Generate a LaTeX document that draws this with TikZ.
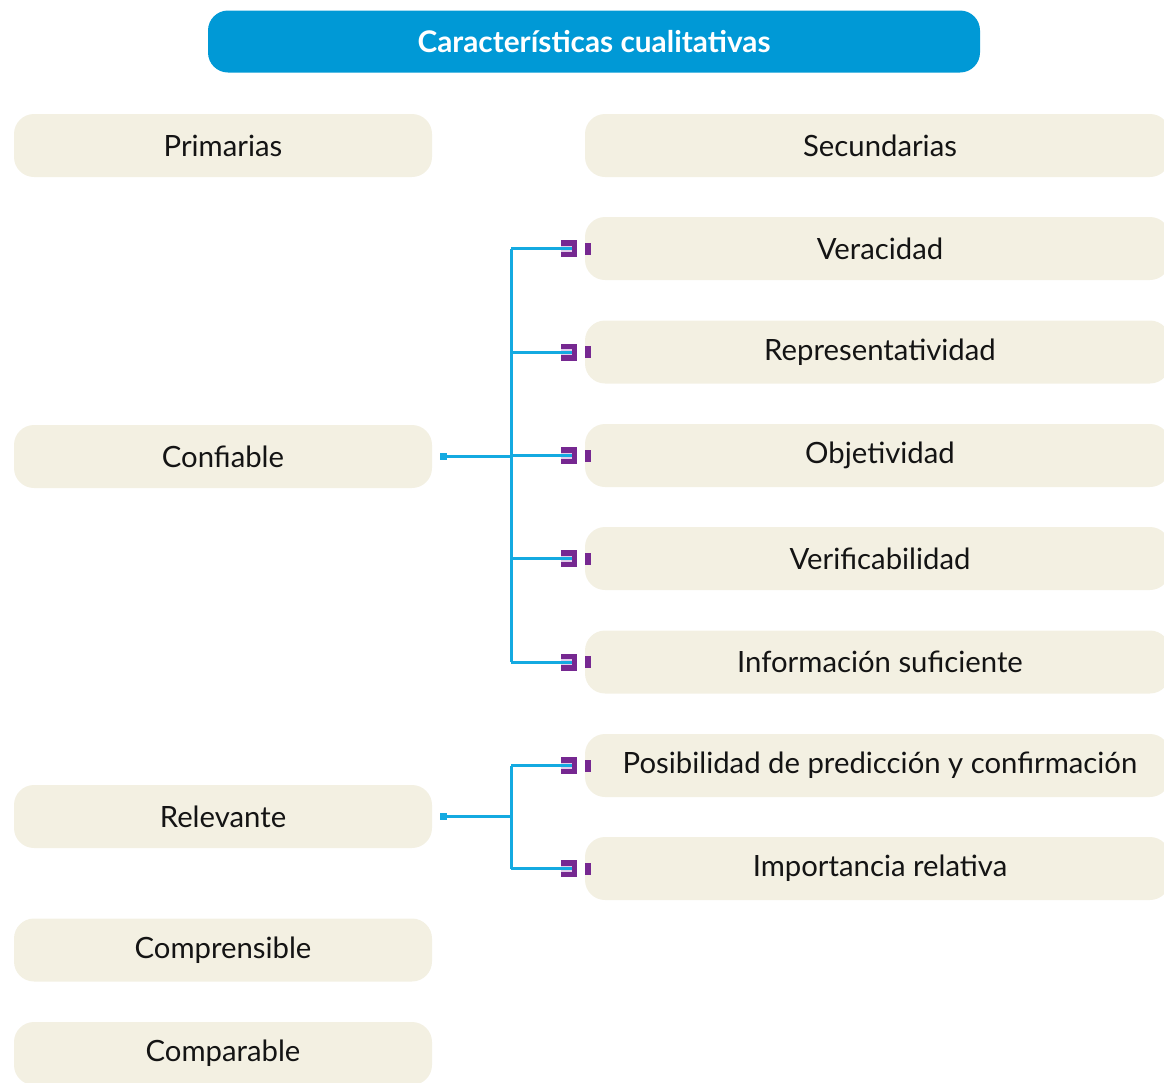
\documentclass[tikz,border=0pt]{standalone}
\usepackage{fontspec}
\setmainfont{Lato}
\definecolor{cream}{RGB}{243,240,226}
\definecolor{topblue}{RGB}{0,153,214}
\definecolor{linkblue}{RGB}{20,170,225}
\definecolor{markpurple}{RGB}{118,40,145}
\definecolor{markinner}{RGB}{225,205,235}
\tikzset{
  box/.style={fill=cream, rounded corners=20pt, minimum height=63pt, inner sep=0pt, font=\fontsize{29.3}{32}\selectfont, text=black!92},
  leftbox/.style={box, minimum width=418pt},
  rightbox/.style={box, minimum width=585pt},
  titlebox/.style={fill=topblue, rounded corners=20pt, minimum width=772pt, minimum height=62pt, inner sep=0pt, text=white, font=\fontsize{29.8}{32}\selectfont\bfseries},
  conn/.style={draw=linkblue, line width=3pt},
  dotbox/.style={fill=linkblue, minimum width=7pt, minimum height=7pt, inner sep=0pt},
  markbox/.style={fill=markpurple, minimum width=16pt, minimum height=17pt, inner sep=0pt},
  markbar/.style={fill=markpurple, minimum width=6pt, minimum height=12pt, inner sep=0pt},
}
\newcommand{\rmark}[2]{%
  \node[markbox] (m#1) at (569,#2) {};
  \fill[markinner] (561,#2-3) rectangle (572,#2+3);
  \node[markbar] (b#1) at (588,#2) {};
}
\begin{document}
\begin{tikzpicture}[x=1pt,y=-1pt]
\useasboundingbox (0,0) rectangle (1164,1082);
% title
\node[titlebox] (title) at (594,41.5) {Características cualitativas};
% left column
\node[leftbox] (prim) at (223,145.5) {Primarias};
\node[leftbox] (conf) at (223,456.5) {Confiable};
\node[leftbox] (rel) at (223,816.5) {Relevante};
\node[leftbox] (comp) at (223,950) {Comprensible};
\node[leftbox] (compa) at (223,1053.5) {Comparable};
% right column
\node[rightbox] (sec) at (877.5,145.5) {\hspace*{5pt}Secundarias};
\node[rightbox] (ver) at (877.5,248.5) {\hspace*{5pt}Veracidad};
\node[rightbox] (rep) at (877.5,352) {\hspace*{5pt}Representatividad};
\node[rightbox] (obj) at (877.5,455.5) {\hspace*{5pt}Objetividad};
\node[rightbox] (verif) at (877.5,558.5) {\hspace*{5pt}Verificabilidad};
\node[rightbox] (inf) at (877.5,662) {\hspace*{5pt}Información suficiente};
\node[rightbox] (pos) at (877.5,765.5) {\hspace*{5pt}Posibilidad de predicción y confirmación};
\node[rightbox] (imp) at (877.5,868.5) {\hspace*{5pt}Importancia relativa};
% marks
\rmark{ver}{248.5}
\rmark{rep}{352}
\rmark{obj}{455.5}
\rmark{verif}{558.5}
\rmark{inf}{662}
\rmark{pos}{765.5}
\rmark{imp}{868.5}
% bus coordinates
\coordinate (busA) at (511,456);
\coordinate (busB) at (511,816);
% dots
\node[dotbox] (cdot) at (443,456) {};
\node[dotbox] (rdot) at (443,816) {};
% connectors group 1
\draw[conn] (cdot.center) -- (busA);
\draw[conn] (busA |- mver) -- (busA |- minf);
\foreach \n in {ver,rep,obj,verif,inf}{
  \draw[conn] (busA |- m\n) -- ([xshift=3pt]m\n.center);
}
% connectors group 2
\draw[conn] (rdot.center) -- (busB);
\draw[conn] (busB |- mpos) -- (busB |- mimp);
\foreach \n in {pos,imp}{
  \draw[conn] (busB |- m\n) -- ([xshift=3pt]m\n.center);
}
\end{tikzpicture}
\end{document}
